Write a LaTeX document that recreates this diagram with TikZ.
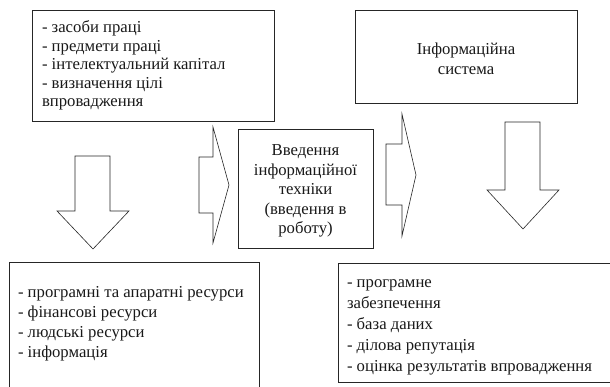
\documentclass[tikz,border=0pt]{standalone}
\usepackage{fontspec}
\setmainfont{Liberation Serif}
\begin{document}
\begin{tikzpicture}[x=1pt,y=-1pt,
  boxline/.style={draw=black!85, line width=0.9pt},
  arrowline/.style={draw=black!85, line width=0.6pt, line join=miter, fill=white},
  txt/.style={inner sep=0pt, outer sep=0pt, font=\fontsize{16.7}{19.5}\selectfont, text=black!90},
  lefttxt/.style={txt, align=left, anchor=north west},
  centxt/.style={txt, align=center, anchor=north}]
\useasboundingbox (0,0) rectangle (610,387);
\clip (0,0) rectangle (610,387);
% boxes
\draw[boxline] (32,10) rectangle (274,121);
\draw[boxline] (238,129) rectangle (373,248);
\draw[boxline] (355,10) rectangle (577,103);
\draw[boxline] (9,262) rectangle (259,400);
\draw[boxline] (338,263) rectangle (625,382);
% block arrows
\draw[arrowline] (199,157) -- (213,157) -- (213,127) -- (229,185) -- (213,243) -- (213,213) -- (199,213) -- cycle;
\draw[arrowline] (386,144) -- (402,144) -- (402,114) -- (416,175) -- (402,236) -- (402,205) -- (386,205) -- cycle;
\draw[arrowline] (75,156) -- (110,156) -- (110,211) -- (129,211) -- (93,249) -- (57,211) -- (75,211) -- cycle;
\draw[arrowline] (505,122) -- (540,122) -- (540,190) -- (559,190) -- (523,229) -- (487,190) -- (505,190) -- cycle;
% texts
\node[lefttxt, font=\fontsize{16.7}{18.5}\selectfont] (t1) at (42,20) {\rule{0pt}{13pt}- засоби праці\\- предмети праці\\- інтелектуальний капітал\\- визначення цілі\\впровадження};
\node[centxt] (t2) at (305.5,143) {\rule{0pt}{13pt}Введення\\інформаційної\\техніки\\(введення в\\роботу)};
\node[centxt] (t3) at (466,42) {\rule{0pt}{13pt}Інформаційна\\система};
\node[lefttxt, font=\fontsize{16.7}{20}\selectfont] (t4) at (18,284) {\rule{0pt}{13pt}- програмні та апаратні ресурси\\- фінансові ресурси\\- людські ресурси\\- інформація};
\node[lefttxt, font=\fontsize{16.7}{21}\selectfont] (t5) at (347,274) {\rule{0pt}{13pt}- програмне\\забезпечення\\- база даних\\- ділова репутація\\- оцінка результатів впровадження};
\end{tikzpicture}
\end{document}
